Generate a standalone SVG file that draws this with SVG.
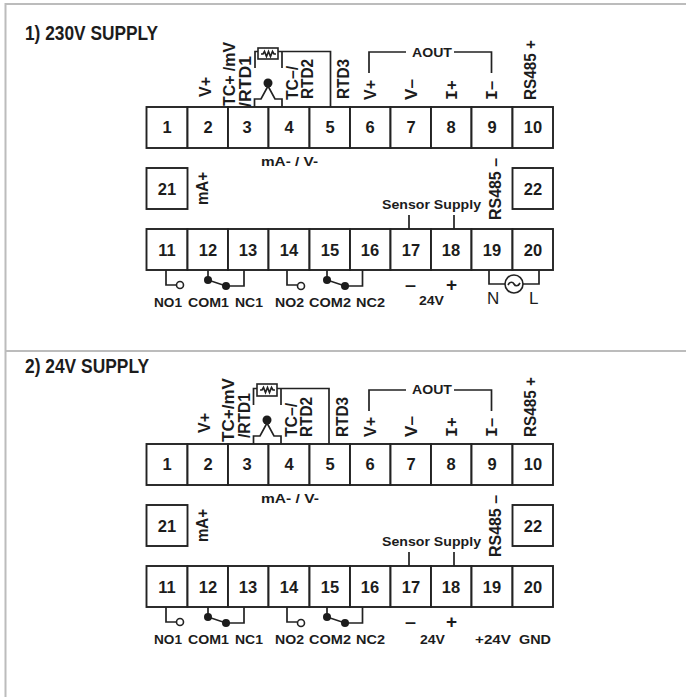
<svg xmlns="http://www.w3.org/2000/svg" width="686" height="697" viewBox="0 0 686 697">
<style>
text{font-family:"Liberation Sans",Arial,sans-serif;font-weight:bold;fill:#1c1c1c}
.n{font-size:16.5px;text-anchor:middle}
.l{font-size:13.500px}
.r{font-size:16.500px}
.s{font-size:19px}
.m{font-family:"Liberation Mono",monospace}
.t{font-size:20.500px}
.p{font-weight:normal;font-size:17px}
.cell{fill:#fff;stroke:#222;stroke-width:1.9}
.w{fill:none;stroke:#222;stroke-width:1.7}
.frame{fill:none;stroke:#bcbcbc;stroke-width:2}
.d{fill:#1c1c1c}
.o{fill:#fff;stroke:#222;stroke-width:1.6}
</style>
<path class="frame" d="M686 4H5.500V697M5 351H686"/>
<text class="t" x="25" y="40" textLength="133" lengthAdjust="spacingAndGlyphs">1) 230V SUPPLY</text>
<text class="t" x="25" y="373" textLength="124" lengthAdjust="spacingAndGlyphs">2) 24V SUPPLY</text>
<g id="section-1">
<g id="n1-1"><rect class="cell" x="146.500" y="107" width="41" height="41"/><text class="n" x="167" y="133">1</text></g>
<g id="n1-2"><rect class="cell" x="187.500" y="107" width="40.500" height="41"/><text class="n" x="208" y="133">2</text></g>
<g id="n1-3"><rect class="cell" x="228" y="107" width="40.500" height="41"/><text class="n" x="247" y="133">3</text></g>
<g id="n1-4"><rect class="cell" x="268.500" y="107" width="41" height="41"/><text class="n" x="289" y="133">4</text></g>
<g id="n1-5"><rect class="cell" x="309.500" y="107" width="40.500" height="41"/><text class="n" x="330" y="133">5</text></g>
<g id="n1-6"><rect class="cell" x="350" y="107" width="40.500" height="41"/><text class="n" x="370" y="133">6</text></g>
<g id="n1-7"><rect class="cell" x="390.500" y="107" width="40.500" height="41"/><text class="n" x="411" y="133">7</text></g>
<g id="n1-8"><rect class="cell" x="431" y="107" width="40.500" height="41"/><text class="n" x="451" y="133">8</text></g>
<g id="n1-9"><rect class="cell" x="471.500" y="107" width="41" height="41"/><text class="n" x="492" y="133">9</text></g>
<g id="n1-10"><rect class="cell" x="512.500" y="107" width="40.500" height="41"/><text class="n" x="533" y="133">10</text></g>
<g id="n1-21"><rect class="cell" x="146.500" y="168" width="41" height="41"/><text class="n" x="167" y="195">21</text></g>
<g id="n1-22"><rect class="cell" x="512.500" y="168" width="40.500" height="41"/><text class="n" x="533" y="195">22</text></g>
<g id="n1-11"><rect class="cell" x="146.500" y="229" width="41" height="41"/><text class="n" x="167" y="256">11</text></g>
<g id="n1-12"><rect class="cell" x="187.500" y="229" width="40.500" height="41"/><text class="n" x="208" y="256">12</text></g>
<g id="n1-13"><rect class="cell" x="228" y="229" width="40.500" height="41"/><text class="n" x="248" y="256">13</text></g>
<g id="n1-14"><rect class="cell" x="268.500" y="229" width="41" height="41"/><text class="n" x="289" y="256">14</text></g>
<g id="n1-15"><rect class="cell" x="309.500" y="229" width="40.500" height="41"/><text class="n" x="330" y="256">15</text></g>
<g id="n1-16"><rect class="cell" x="350" y="229" width="40.500" height="41"/><text class="n" x="370" y="256">16</text></g>
<g id="n1-17"><rect class="cell" x="390.500" y="229" width="40.500" height="41"/><text class="n" x="411" y="256">17</text></g>
<g id="n1-18"><rect class="cell" x="431" y="229" width="40.500" height="41"/><text class="n" x="451" y="256">18</text></g>
<g id="n1-19"><rect class="cell" x="471.500" y="229" width="41" height="41"/><text class="n" x="492" y="256">19</text></g>
<g id="n1-20"><rect class="cell" x="512.500" y="229" width="40.500" height="41"/><text class="n" x="533" y="256">20</text></g>
<g id="connectors-1">
<path class="w" d="M369 73V52H406M454 52H491.500V73"/>
<path class="w" d="M255 68V51.500H258M278 51.500H330.500V107M282 51.500V68"/>
<rect class="o" x="258" y="48" width="20" height="11"/>
<path class="w" d="M261 54H263L264.500 51.500L266.500 56.500L268.500 51.500L270.500 56.500L272.500 51.500L274 54H276"/>
<circle class="d" cx="268" cy="83" r="4.500"/>
<path class="w" d="M254.500 107V99H261L268 86L275 99H282V107"/>
<path class="w" d="M409 215V229M454 215V229"/>
<path class="w" d="M166 270V285H176"/><circle class="o" cx="180" cy="285" r="3.500"/>
<path class="w" d="M208 270V280L226 286H244V270"/><circle class="d" cx="208" cy="280" r="4"/><circle class="d" cx="226" cy="286" r="4"/>
<path class="w" d="M287 270V285H297"/><circle class="o" cx="301" cy="286" r="3.500"/>
<path class="w" d="M327 270V280L345 286H362.500V270"/><circle class="d" cx="327" cy="280" r="4"/><circle class="d" cx="345" cy="286" r="4"/>
<path class="w" d="M489 270V284H505M523 284H539V270"/><circle class="o" cx="514" cy="284" r="9"/>
<path class="w" d="M508 285C510 281 513 282 514 284S518 287 520 283"/>
</g>
<text class="l" x="412" y="57" textLength="40" lengthAdjust="spacingAndGlyphs">AOUT</text>
<text class="l" x="261" y="166" textLength="57" lengthAdjust="spacingAndGlyphs">mA- / V-</text>
<text class="l" x="382" y="209" textLength="99" lengthAdjust="spacingAndGlyphs">Sensor Supply</text>
<text class="l" x="154" y="307" textLength="28" lengthAdjust="spacingAndGlyphs">NO1</text><text class="l" x="188" y="307" textLength="41" lengthAdjust="spacingAndGlyphs">COM1</text><text class="l" x="235" y="307" textLength="28" lengthAdjust="spacingAndGlyphs">NC1</text><text class="l" x="275" y="307" textLength="29" lengthAdjust="spacingAndGlyphs">NO2</text><text class="l" x="309" y="307" textLength="42" lengthAdjust="spacingAndGlyphs">COM2</text><text class="l" x="356" y="307" textLength="29" lengthAdjust="spacingAndGlyphs">NC2</text>
<text class="s" x="405" y="291" textLength="11" lengthAdjust="spacingAndGlyphs">–</text><text class="s" x="446" y="291">+</text>
<text class="l" x="419" y="305" textLength="25" lengthAdjust="spacingAndGlyphs">24V</text>
<text class="p" x="487" y="304">N</text><text class="p" x="529" y="304">L</text>
<text class="r" transform="translate(210.500 97) rotate(-90)" textLength="20" lengthAdjust="spacingAndGlyphs">V+</text>
<text class="r" transform="translate(235 106) rotate(-90)" textLength="64" lengthAdjust="spacingAndGlyphs">TC+ /mV</text>
<text class="r" transform="translate(251 107) rotate(-90)" textLength="51" lengthAdjust="spacingAndGlyphs">/RTD1</text>
<text class="r" transform="translate(298 100) rotate(-90)" textLength="34" lengthAdjust="spacingAndGlyphs">TC–/</text>
<text class="r" transform="translate(313 99) rotate(-90)" textLength="40" lengthAdjust="spacingAndGlyphs">RTD2</text>
<text class="r" transform="translate(349 99) rotate(-90)" textLength="40" lengthAdjust="spacingAndGlyphs">RTD3</text>
<text class="r" transform="translate(376 100) rotate(-90)" textLength="20" lengthAdjust="spacingAndGlyphs">V+</text>
<text class="r" transform="translate(417 100) rotate(-90)" textLength="21" lengthAdjust="spacingAndGlyphs">V–</text>
<text class="r" transform="translate(457 100) rotate(-90)"><tspan class="m">I</tspan>+</text>
<text class="r" transform="translate(497 100) rotate(-90)"><tspan class="m">I</tspan>–</text>
<text class="r" transform="translate(536 100) rotate(-90)" textLength="60" lengthAdjust="spacingAndGlyphs">RS485 +</text>
<text class="r" transform="translate(208 205) rotate(-90)" textLength="33" lengthAdjust="spacingAndGlyphs">mA+</text>
<text class="r" transform="translate(501 220) rotate(-90)" textLength="62" lengthAdjust="spacingAndGlyphs">RS485 –</text>
</g>
<g id="section-2">
<g id="n2-1"><rect class="cell" x="146.500" y="444" width="41" height="41"/><text class="n" x="167" y="470">1</text></g>
<g id="n2-2"><rect class="cell" x="187.500" y="444" width="40.500" height="41"/><text class="n" x="208" y="470">2</text></g>
<g id="n2-3"><rect class="cell" x="228" y="444" width="40.500" height="41"/><text class="n" x="247" y="470">3</text></g>
<g id="n2-4"><rect class="cell" x="268.500" y="444" width="41" height="41"/><text class="n" x="289" y="470">4</text></g>
<g id="n2-5"><rect class="cell" x="309.500" y="444" width="40.500" height="41"/><text class="n" x="330" y="470">5</text></g>
<g id="n2-6"><rect class="cell" x="350" y="444" width="40.500" height="41"/><text class="n" x="370" y="470">6</text></g>
<g id="n2-7"><rect class="cell" x="390.500" y="444" width="40.500" height="41"/><text class="n" x="411" y="470">7</text></g>
<g id="n2-8"><rect class="cell" x="431" y="444" width="40.500" height="41"/><text class="n" x="451" y="470">8</text></g>
<g id="n2-9"><rect class="cell" x="471.500" y="444" width="41" height="41"/><text class="n" x="492" y="470">9</text></g>
<g id="n2-10"><rect class="cell" x="512.500" y="444" width="40.500" height="41"/><text class="n" x="533" y="470">10</text></g>
<g id="n2-21"><rect class="cell" x="146.500" y="505" width="41" height="41"/><text class="n" x="167" y="532">21</text></g>
<g id="n2-22"><rect class="cell" x="512.500" y="505" width="40.500" height="41"/><text class="n" x="533" y="532">22</text></g>
<g id="n2-11"><rect class="cell" x="146.500" y="566" width="41" height="41"/><text class="n" x="167" y="593">11</text></g>
<g id="n2-12"><rect class="cell" x="187.500" y="566" width="40.500" height="41"/><text class="n" x="208" y="593">12</text></g>
<g id="n2-13"><rect class="cell" x="228" y="566" width="40.500" height="41"/><text class="n" x="248" y="593">13</text></g>
<g id="n2-14"><rect class="cell" x="268.500" y="566" width="41" height="41"/><text class="n" x="289" y="593">14</text></g>
<g id="n2-15"><rect class="cell" x="309.500" y="566" width="40.500" height="41"/><text class="n" x="330" y="593">15</text></g>
<g id="n2-16"><rect class="cell" x="350" y="566" width="40.500" height="41"/><text class="n" x="370" y="593">16</text></g>
<g id="n2-17"><rect class="cell" x="390.500" y="566" width="40.500" height="41"/><text class="n" x="411" y="593">17</text></g>
<g id="n2-18"><rect class="cell" x="431" y="566" width="40.500" height="41"/><text class="n" x="451" y="593">18</text></g>
<g id="n2-19"><rect class="cell" x="471.500" y="566" width="41" height="41"/><text class="n" x="492" y="593">19</text></g>
<g id="n2-20"><rect class="cell" x="512.500" y="566" width="40.500" height="41"/><text class="n" x="533" y="593">20</text></g>
<g id="connectors-2">
<path class="w" d="M369 411V390H406M454 390H491.500V411"/>
<path class="w" d="M253.500 405V388.500H257M277 388.500H329V444M281 388.500V405"/>
<rect class="o" x="257" y="384" width="20" height="12"/>
<path class="w" d="M260 390H262L263.500 387.500L265.500 392.500L267.500 387.500L269.500 392.500L271.500 387.500L273 390H275"/>
<circle class="d" cx="267" cy="420" r="4.500"/>
<path class="w" d="M253.500 444V436H260L267 423L274 436H281V444"/>
<path class="w" d="M409 552V566M454 552V566"/>
<path class="w" d="M166 607V622H176"/><circle class="o" cx="180" cy="622" r="3.500"/>
<path class="w" d="M208 607V617L226 623H244V607"/><circle class="d" cx="208" cy="617" r="4"/><circle class="d" cx="226" cy="623" r="4"/>
<path class="w" d="M287 607V622H297"/><circle class="o" cx="301" cy="623" r="3.500"/>
<path class="w" d="M327 607V617L345 623H362.500V607"/><circle class="d" cx="327" cy="617" r="4"/><circle class="d" cx="345" cy="623" r="4"/>
</g>
<text class="l" x="412" y="394" textLength="40" lengthAdjust="spacingAndGlyphs">AOUT</text>
<text class="l" x="261" y="503" textLength="58" lengthAdjust="spacingAndGlyphs">mA- / V-</text>
<text class="l" x="382" y="546" textLength="99" lengthAdjust="spacingAndGlyphs">Sensor Supply</text>
<text class="l" x="154" y="644" textLength="28" lengthAdjust="spacingAndGlyphs">NO1</text><text class="l" x="188" y="644" textLength="41" lengthAdjust="spacingAndGlyphs">COM1</text><text class="l" x="235" y="644" textLength="28" lengthAdjust="spacingAndGlyphs">NC1</text><text class="l" x="275" y="644" textLength="29" lengthAdjust="spacingAndGlyphs">NO2</text><text class="l" x="309" y="644" textLength="42" lengthAdjust="spacingAndGlyphs">COM2</text><text class="l" x="356" y="644" textLength="29" lengthAdjust="spacingAndGlyphs">NC2</text>
<text class="s" x="405" y="628" textLength="11" lengthAdjust="spacingAndGlyphs">–</text><text class="s" x="446" y="628">+</text>
<text class="l" x="420" y="644" textLength="25" lengthAdjust="spacingAndGlyphs">24V</text>
<text class="l" x="475" y="644" textLength="36" lengthAdjust="spacingAndGlyphs">+24V</text><text class="l" x="519" y="644" textLength="32" lengthAdjust="spacingAndGlyphs">GND</text>
<text class="r" transform="translate(209.500 433) rotate(-90)" textLength="20" lengthAdjust="spacingAndGlyphs">V+</text>
<text class="r" transform="translate(233.500 442) rotate(-90)" textLength="64" lengthAdjust="spacingAndGlyphs">TC+/mV</text>
<text class="r" transform="translate(250 438) rotate(-90)" textLength="45" lengthAdjust="spacingAndGlyphs">/RTD1</text>
<text class="r" transform="translate(296.500 437) rotate(-90)" textLength="34" lengthAdjust="spacingAndGlyphs">TC–/</text>
<text class="r" transform="translate(312 437) rotate(-90)" textLength="40" lengthAdjust="spacingAndGlyphs">RTD2</text>
<text class="r" transform="translate(347.500 437) rotate(-90)" textLength="40" lengthAdjust="spacingAndGlyphs">RTD3</text>
<text class="r" transform="translate(376 437) rotate(-90)" textLength="20" lengthAdjust="spacingAndGlyphs">V+</text>
<text class="r" transform="translate(417 437) rotate(-90)" textLength="21" lengthAdjust="spacingAndGlyphs">V–</text>
<text class="r" transform="translate(457 437) rotate(-90)"><tspan class="m">I</tspan>+</text>
<text class="r" transform="translate(497 437) rotate(-90)"><tspan class="m">I</tspan>–</text>
<text class="r" transform="translate(536 437) rotate(-90)" textLength="60" lengthAdjust="spacingAndGlyphs">RS485 +</text>
<text class="r" transform="translate(208 542) rotate(-90)" textLength="33" lengthAdjust="spacingAndGlyphs">mA+</text>
<text class="r" transform="translate(501 557) rotate(-90)" textLength="62" lengthAdjust="spacingAndGlyphs">RS485 –</text>
</g>
</svg>
